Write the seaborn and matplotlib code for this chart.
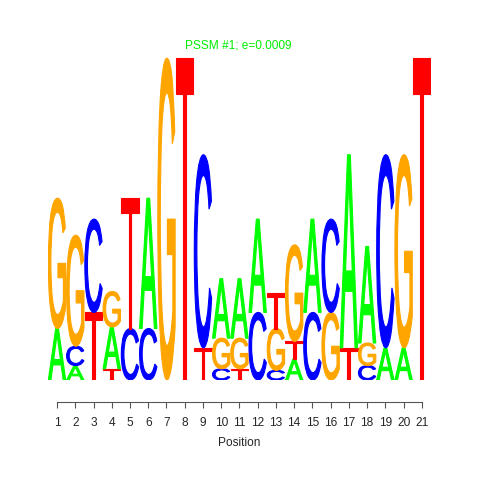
import numpy as np
import pandas as pd
import seaborn as sns
import matplotlib
matplotlib.use("Agg")
import matplotlib.pyplot as plt
from matplotlib.textpath import TextPath
from matplotlib.patches import PathPatch
from matplotlib.font_manager import FontProperties
from matplotlib.transforms import Affine2D

# letter stacks per position (bottom -> top) and their heights in bits
positions = list(range(1, 22))
letters = [
    ["A", "G"], ["A", "C", "G"], ["T", "C"], ["T", "A", "G"], ["C", "T"],
    ["C", "A"], ["G"], ["T"], ["T", "C"], ["C", "G", "A"],
    ["T", "G", "A"], ["C", "A"], ["C", "G", "T"], ["A", "T", "G"], ["C", "A"],
    ["G", "C"], ["T", "A"], ["C", "G", "A"], ["A", "C"], ["A", "G"],
    ["T"],
]
heights = [
    [0.32, 0.81], [0.09, 0.12, 0.69], [0.42, 0.58], [0.07, 0.26, 0.22], [0.32, 0.81],
    [0.32, 0.81], [2.0], [2.0], [0.2, 1.2], [0.07, 0.19, 0.37],
    [0.07, 0.19, 0.37], [0.42, 0.58], [0.06, 0.26, 0.22], [0.13, 0.11, 0.6], [0.42, 0.58],
    [0.42, 0.58], [0.2, 1.2], [0.09, 0.14, 0.6], [0.2, 1.2], [0.2, 1.2],
    [2.0],
]
title = "PSSM #1; e=0.0009"

colors = {"A": "#00FF00", "C": "#0000FF", "G": "#FFA500", "T": "#FF0000"}

rows = []
for pos, lets, hs in zip(positions, letters, heights):
    base = 0.0
    for l, h in zip(lets, hs):
        rows.append({"pos": pos, "letter": l, "y0": base, "h": h})
        base += h
df = pd.DataFrame(rows)

sns.set_theme(style="white")
plt.rcParams["font.family"] = ["Liberation Sans", "DejaVu Sans"]

fig = plt.figure(figsize=(4.8, 4.8), dpi=100)
ax = fig.add_axes([0.0998, 0.2083, 0.798, 0.704])
ax.set_xlim(0.5, 21.5)
ax.set_ylim(0, 2.1)

fp = FontProperties(family="Liberation Sans", weight="normal")
glyphs = {}
for l in "ACGT":
    glyphs[l] = TextPath((0, 0), l, size=1, prop=fp)

width = 0.95
for _, r in df.iterrows():
    tp = glyphs[r["letter"]]
    bb = tp.get_extents()
    tr = (Affine2D()
          .translate(-bb.x0, -bb.y0)
          .scale(width / bb.width, r["h"] / bb.height)
          .translate(r["pos"] - width / 2, r["y0"]))
    path = tr.transform_path(tp)
    ax.add_patch(PathPatch(path, facecolor=colors[r["letter"]],
                           edgecolor=colors[r["letter"]], lw=0.8))

ax.text(8.0, 2.04, title, color="#00EE00", fontsize=8.6, ha="left", va="bottom")

sns.despine(ax=ax, left=True, top=True, right=True)
ax.spines["bottom"].set_position(("outward", 16))
ax.spines["bottom"].set_bounds(1, 21)
ax.spines["bottom"].set_color("#555555")
ax.spines["bottom"].set_linewidth(0.8)
ax.set_xticks(positions)
ax.set_xticklabels([str(p) for p in positions], fontsize=8.6)
ax.tick_params(axis="x", direction="out", length=4.3, width=0.8, color="#555555", pad=6, bottom=True)
ax.set_yticks([])
ax.set_xlabel("Position", fontsize=8.6, labelpad=6)
ax.grid(False)

fig.savefig("out.png", dpi=100)
